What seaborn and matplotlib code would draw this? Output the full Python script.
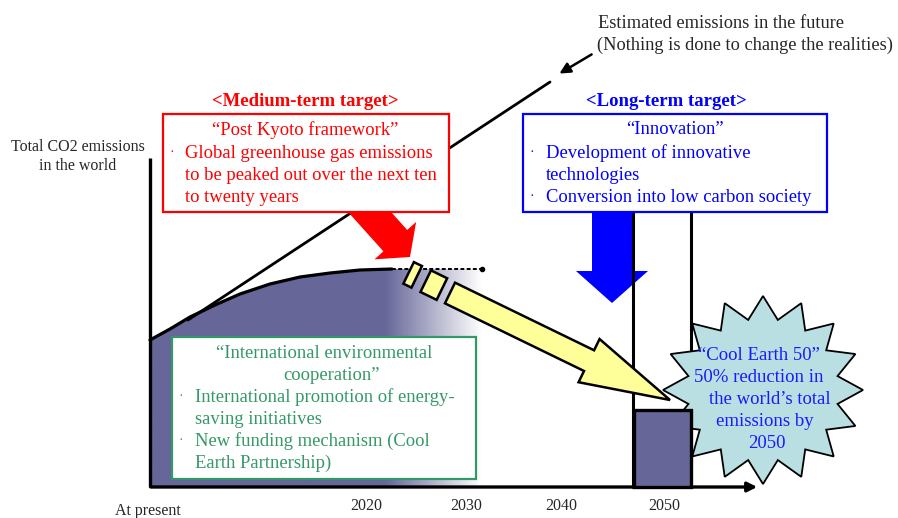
import numpy as np
import matplotlib.pyplot as plt
import seaborn as sns
from matplotlib.patches import Polygon, Rectangle, FancyArrow

sns.set_theme(style="white")
plt.rcParams['font.family'] = ['Liberation Serif', 'DejaVu Serif']

# --- data (picture units: x to the right, y downwards) ---
curve_x = [150, 170, 190, 215, 240, 270, 300, 330, 360, 392]
curve_y = [340, 329, 317, 305, 294, 284, 277, 273, 270, 269]
peak_x = [392, 482]
peak_y = [269, 269]
bau_x = [188, 550]
bau_y = [320, 82]
bar_2050 = 410          # top of the 2050 bar
baseline = 487

tick_x = [148, 366, 466, 561, 664]
tick_y = [511, 506, 506, 506, 506]
tick_labels = ["At present", "2020", "2030", "2040", "2050"]

red_lines = ["Global greenhouse gas emissions",
             "to be peaked out over the next ten",
             "to twenty years"]
blue_lines = ["Development of innovative",
              "technologies",
              "Conversion into low carbon society"]
green_lines = ["International promotion of energy-",
               "saving initiatives",
               "New funding mechanism (Cool",
               "Earth Partnership)"]
star_lines = ["\u201cCool Earth 50\u201d", "50% reduction in",
              "the world\u2019s total", "emissions by", "2050"]

purple = "#666699"
red = "#ff0000"
blue = "#0000ff"
green = "#339966"
fs = 13.4

fig = plt.figure(figsize=(8.98, 5.18), dpi=100)
ax = fig.add_axes([0, 0, 1, 1])

# emissions area with fade to white
xs = np.linspace(150, 482, 400)
t = np.clip((xs - 385) / (482 - 385), 0, 1)
base = np.array([102, 102, 153]) / 255
rgb = base[None, :] * (1 - t[:, None]) + t[:, None]
im = ax.imshow(rgb[None, :, :], extent=[150, 482, baseline, 255], aspect='auto', zorder=1)
verts = list(zip(curve_x, curve_y)) + [(482, 269), (482, baseline), (150, baseline)]
clip = Polygon(verts, closed=True, fc='none', ec='none')
ax.add_patch(clip)
im.set_clip_path(clip)

sns.lineplot(x=curve_x, y=curve_y, ax=ax, color='black', lw=2.3, zorder=3)
ax.plot(peak_x, peak_y, color='black', lw=1.4, ls=(0, (2, 1.2)), zorder=3)
ax.plot(peak_x[-1], peak_y[-1], 'o', color='black', ms=3, zorder=3)

# business as usual line
sns.lineplot(x=bau_x, y=bau_y, ax=ax, color='black', lw=2.0, zorder=2)
ax.annotate("", xy=(557, 75), xytext=(594, 53),
            arrowprops=dict(arrowstyle='-|>', color='black', lw=1.8, mutation_scale=16), zorder=2)
ax.text(598, 23, "Estimated emissions in the future", fontsize=13.2, va='center', ha='left')
ax.text(597, 45, "(Nothing is done to change the realities)", fontsize=13.2, va='center', ha='left')

# axes
ax.plot([150, 150], [158, baseline], color='black', lw=2.4, zorder=6, solid_capstyle='butt')
ax.annotate("", xy=(760, baseline), xytext=(148, baseline),
            arrowprops=dict(arrowstyle='-|>', color='black', lw=2.4, mutation_scale=14), zorder=6)
for x, y, lab in zip(tick_x, tick_y, tick_labels):
    ax.text(x, y, lab, fontsize=11.5, ha='center', va='center')
ax.text(78, 147, "Total CO2 emissions", fontsize=11.5, ha='center', va='center')
ax.text(78, 166, "in the world", fontsize=11.5, ha='center', va='center')

# 2050 markers
ax.plot([633, 633], [213, baseline], color='black', lw=2.2, zorder=4.5)
ax.plot([691, 691], [213, bar_2050], color='black', lw=2.2, zorder=4.5)
ax.add_patch(Rectangle((634, bar_2050), 57, baseline - bar_2050, fc=purple, ec='black', lw=2.4, zorder=7))

# arrows from the boxes
ax.add_patch(FancyArrow(348, 188, 62, 69, width=32, head_width=56, head_length=22,
                        length_includes_head=True, fc=red, ec='none', zorder=4))
ax.add_patch(FancyArrow(612, 200, 0, 103, width=40, head_width=72, head_length=32,
                        length_includes_head=True, fc=blue, ec='none', zorder=4))

# boxes
ax.add_patch(Rectangle((163, 114), 286, 98, fc='white', ec=red, lw=1.6, zorder=5))
ax.add_patch(Rectangle((523, 114), 304, 98, fc='white', ec=blue, lw=1.6, zorder=5))
ax.add_patch(Rectangle((172, 337), 304, 142, fc='white', ec=green, lw=1.6, zorder=5))

ax.text(305, 102, "<Medium-term target>", color=red, fontsize=13.5, fontweight='bold', ha='center', va='center')
ax.text(305, 130, "\u201cPost Kyoto framework\u201d", color=red, fontsize=fs, ha='center', va='center', zorder=10)
ax.text(172, 153, "\u00b7", color=red, fontsize=10, ha='center', va='center', zorder=10)
for i, s in enumerate(red_lines):
    ax.text(185, 153 + 22 * i, s, color=red, fontsize=fs, ha='left', va='center', zorder=10)

ax.text(666, 102, "<Long-term target>", color=blue, fontsize=13.5, fontweight='bold', ha='center', va='center')
ax.text(675, 130, "\u201cInnovation\u201d", color=blue, fontsize=fs, ha='center', va='center', zorder=10)
for i, s in enumerate(blue_lines):
    ax.text(546, 153 + 22 * i, s, color=blue, fontsize=fs, ha='left', va='center', zorder=10)
for i in (0, 2):
    ax.text(532, 153 + 22 * i, "\u00b7", color=blue, fontsize=10, ha='center', va='center', zorder=10)

ax.text(324, 353, "\u201cInternational environmental", color=green, fontsize=fs, ha='center', va='center', zorder=10)
ax.text(332, 375, "cooperation\u201d", color=green, fontsize=fs, ha='center', va='center', zorder=10)
for i, s in enumerate(green_lines):
    ax.text(195, 397 + 22 * i, s, color=green, fontsize=fs, ha='left', va='center', zorder=10)
for i in (0, 2):
    ax.text(181, 397 + 22 * i, "\u00b7", color=green, fontsize=10, ha='center', va='center', zorder=10)

# Cool Earth star
n = 16
k = np.arange(2 * n)
ang = np.pi / 2 + k * np.pi / n
r = np.where(k % 2 == 0, 1.0, 0.76)
star = np.column_stack([763 + 100 * r * np.cos(ang), 390 - 94 * r * np.sin(ang)])
ax.add_patch(Polygon(star, closed=True, fc='#b9dfe3', ec='black', lw=1.3, zorder=6))
for x, y, s in zip([759, 759, 770, 765, 767], [355, 377, 400, 422, 444], star_lines):
    ax.text(x, y, s, color='#1a1aff', fontsize=13.5, ha='center', va='center', zorder=10)

# yellow striped arrow
tail = np.array([450.0, 293.0])
tip = np.array([670.0, 400.0])
u = (tip - tail) / np.linalg.norm(tip - tail)
nv = np.array([-u[1], u[0]])
for s0, s1 in [(-46, -37), (-27, -9)]:
    pts = [tail + u * s + nv * w for s, w in [(s0, -12), (s1, -12), (s1, 12), (s0, 12)]]
    ax.add_patch(Polygon(pts, closed=True, fc='#ffff99', ec='black', lw=1.8, zorder=8))
ax.add_patch(FancyArrow(tail[0], tail[1], *(tip - tail), width=23, head_width=48, head_length=90,
                        length_includes_head=True, fc='#ffff99', ec='black', lw=1.8, zorder=8))

ax.set_xlim(0, 898)
ax.set_ylim(518, 0)
ax.axis('off')
fig.savefig("out.png", dpi=100)
